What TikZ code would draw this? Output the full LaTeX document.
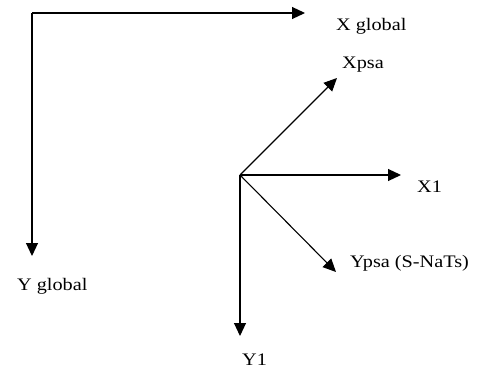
\documentclass[tikz,border=0pt]{standalone}
\usepackage{fontspec}
\setmainfont{Liberation Serif}[FakeStretch=1.15]
\usetikzlibrary{arrows.meta}
\begin{document}
\begin{tikzpicture}[x=1pt,y=-1pt,
  axis/.style={line width=1.1pt,-{Triangle[length=13pt,width=12pt]}},
  lbl/.style={anchor=base west,inner sep=0pt,font=\fontsize{17.6}{20}\selectfont}]
\useasboundingbox (0,0) rectangle (480,369);
\coordinate (G) at (32,13);
\coordinate (GX) at (305,13);
\coordinate (GY) at (32,256);
\coordinate (L) at (240,175);
\coordinate (LX) at (401,175);
\coordinate (LY) at (240,336);
\coordinate (PX) at (337,78);
\coordinate (PY) at (336,272);
\draw[axis] (G) -- (GX);
\draw[axis] (G) -- (GY);
\draw[axis] (L) -- (LX);
\draw[axis] (L) -- (LY);
\draw[axis] (L) -- (PX);
\draw[axis] (L) -- (PY);
\node[lbl] (tGX) at (336,31) {X global};
\node[lbl] (tGY) at (17,290) {Y global};
\node[lbl] (tPX) at (342,69) {Xpsa};
\node[lbl] (tLX) at (417,192) {X1};
\node[lbl] (tPY) at (350,267) {Ypsa (S-NaTs)};
\node[lbl] (tLY) at (242,365) {Y1};
\end{tikzpicture}
\end{document}
